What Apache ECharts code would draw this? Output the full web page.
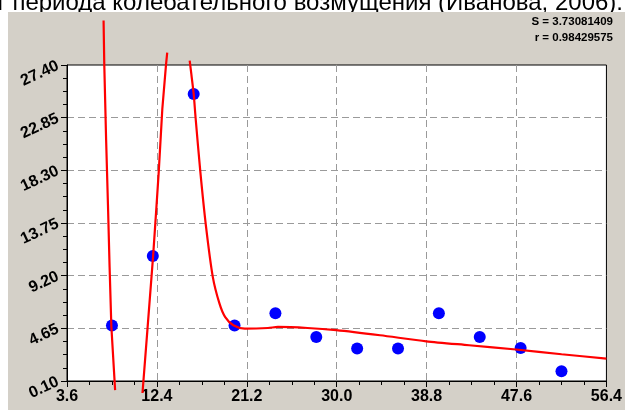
<!DOCTYPE html>
<html>
<head>
<meta charset="utf-8">
<script src="https://cdn.jsdelivr.net/npm/echarts@6/dist/echarts.min.js"></script>
<style>
  html, body { margin: 0; padding: 0; background: #fff; }
  #chart { width: 625px; height: 410px; }
</style>
</head>
<body>
<div id="chart"></div>
<script>
// Axis tick labels
const xTickLabels = ['3.6', '12.4', '21.2', '30.0', '38.8', '47.6', '56.4'];
const yTickLabels = ['0.10', '4.65', '9.20', '13.75', '18.30', '22.85', '27.40'];

// Observed values
const obsX = [8, 12, 16, 20, 24, 28, 32, 36, 40, 44, 48, 52];
const obsY = [4.9, 10.9, 24.9, 4.9, 5.95, 3.9, 2.9, 2.9, 5.95, 3.9, 2.95, 0.95];

// Fitted curve, three branches (it leaves the plot between them)
const fitAX = [7.18, 7.25, 7.43, 7.61, 7.77, 7.94, 8.31];
const fitAY = [31.24, 27.41, 20.92, 15.31, 9.94, 4.83, -0.69];
const fitBX = [10.99, 11.48, 12.03, 12.32, 12.58, 12.93, 13.29, 13.41];
const fitBY = [-0.94, 4.63, 10.91, 14.69, 18.18, 23.60, 27.41, 28.47];
const fitCX = [15.61, 15.78, 16.0, 16.19, 16.65, 17.19, 17.87, 18.52, 19.07, 19.88, 21.01,
               23.27, 24.24, 27.14, 29.95, 34.24, 38.77, 42.96, 47.55, 52.01, 56.4];
const fitCY = [27.78, 26.54, 24.90, 22.80, 18.18, 13.57, 9.10, 6.80, 5.64, 4.92, 4.63,
               4.68, 4.77, 4.68, 4.49, 4.05, 3.53, 3.19, 2.82, 2.41, 2.04];

// Fit statistics
const statLines = ['S = 3.73081409', 'r = 0.98429575'];
const captionText = 'от периода колебательного возмущения (Иванова, 2006).';

const zip = (xs, ys) => xs.map((x, i) => [x, ys[i]]);
const pickLabel = (labels) => (v) => {
  let best = labels[0], d = Infinity;
  labels.forEach(l => { const e = Math.abs(Number(l) - v); if (e < d) { d = e; best = l; } });
  return best;
};

const labelFont = { fontFamily: 'Liberation Sans, Arial, sans-serif', fontWeight: 'bold', fontSize: 16, color: '#000' };

const fitLine = (data, smooth) => ({
  type: 'line',
  data: data,
  showSymbol: false,
  symbol: 'none',
  clip: false,
  smooth: smooth,
  z: 4,
  lineStyle: { color: '#ff0000', width: 2.2 },
  silent: true,
  animation: false
});

const chart = echarts.init(document.getElementById('chart'), null, { renderer: 'canvas' });
chart.setOption({
  backgroundColor: '#ffffff',
  animation: false,
  graphic: {
    elements: [
      {
        type: 'text', z: -3, right: 2, top: -8.5,
        style: { text: captionText, font: '24px "Liberation Sans", Arial, sans-serif', fill: '#000' }
      },
      {
        type: 'rect', z: -2, shape: { x: 8, y: 12, width: 617, height: 398 },
        style: { fill: '#d4d0c8' }
      },
      {
        type: 'text', z: 5, x: 613, y: 22,
        style: { text: statLines[0], align: 'right', verticalAlign: 'middle',
                 font: 'bold 11.5px "Liberation Sans", Arial, sans-serif', fill: '#000' }
      },
      {
        type: 'text', z: 5, x: 613, y: 38,
        style: { text: statLines[1], align: 'right', verticalAlign: 'middle',
                 font: 'bold 11.5px "Liberation Sans", Arial, sans-serif', fill: '#000' }
      }
    ]
  },
  grid: {
    left: 67, right: 13, top: 65, bottom: 29,
    show: true, backgroundColor: '#ffffff', borderColor: '#000', borderWidth: 1
  },
  xAxis: {
    type: 'value',
    min: Number(xTickLabels[0]), max: Number(xTickLabels[xTickLabels.length - 1]),
    interval: 8.8,
    axisLine: { show: true, lineStyle: { color: '#000', width: 1 } },
    axisTick: { show: true, length: 6, lineStyle: { color: '#000' } },
    minorTick: { show: true, splitNumber: 4, length: 4, lineStyle: { color: '#000' } },
    splitLine: { show: true, showMinLine: false, showMaxLine: false,
                 lineStyle: { color: '#9a9a9a', type: [7, 4], width: 1 } },
    axisLabel: Object.assign({ margin: 8, formatter: pickLabel(xTickLabels) }, labelFont)
  },
  yAxis: {
    type: 'value',
    min: Number(yTickLabels[0]), max: Number(yTickLabels[yTickLabels.length - 1]),
    interval: 4.55,
    axisLine: { show: true, lineStyle: { color: '#000', width: 1 } },
    axisTick: { show: true, length: 6, lineStyle: { color: '#000' } },
    minorTick: { show: true, splitNumber: 4, length: 4, lineStyle: { color: '#000' } },
    splitLine: { show: true, showMinLine: false, showMaxLine: false,
                 lineStyle: { color: '#9a9a9a', type: [7, 4], width: 1 } },
    axisLabel: Object.assign({ margin: 9, rotate: 25, formatter: pickLabel(yTickLabels) }, labelFont)
  },
  series: [
    {
      type: 'scatter',
      data: zip(obsX, obsY),
      symbol: 'circle',
      symbolSize: 12,
      itemStyle: { color: '#0000ff', opacity: 1 },
      z: 3,
      silent: true
    },
    fitLine(zip(fitAX, fitAY), false),
    fitLine(zip(fitBX, fitBY), false),
    fitLine(zip(fitCX, fitCY), 0.25)
  ]
});
</script>
</body>
</html>
